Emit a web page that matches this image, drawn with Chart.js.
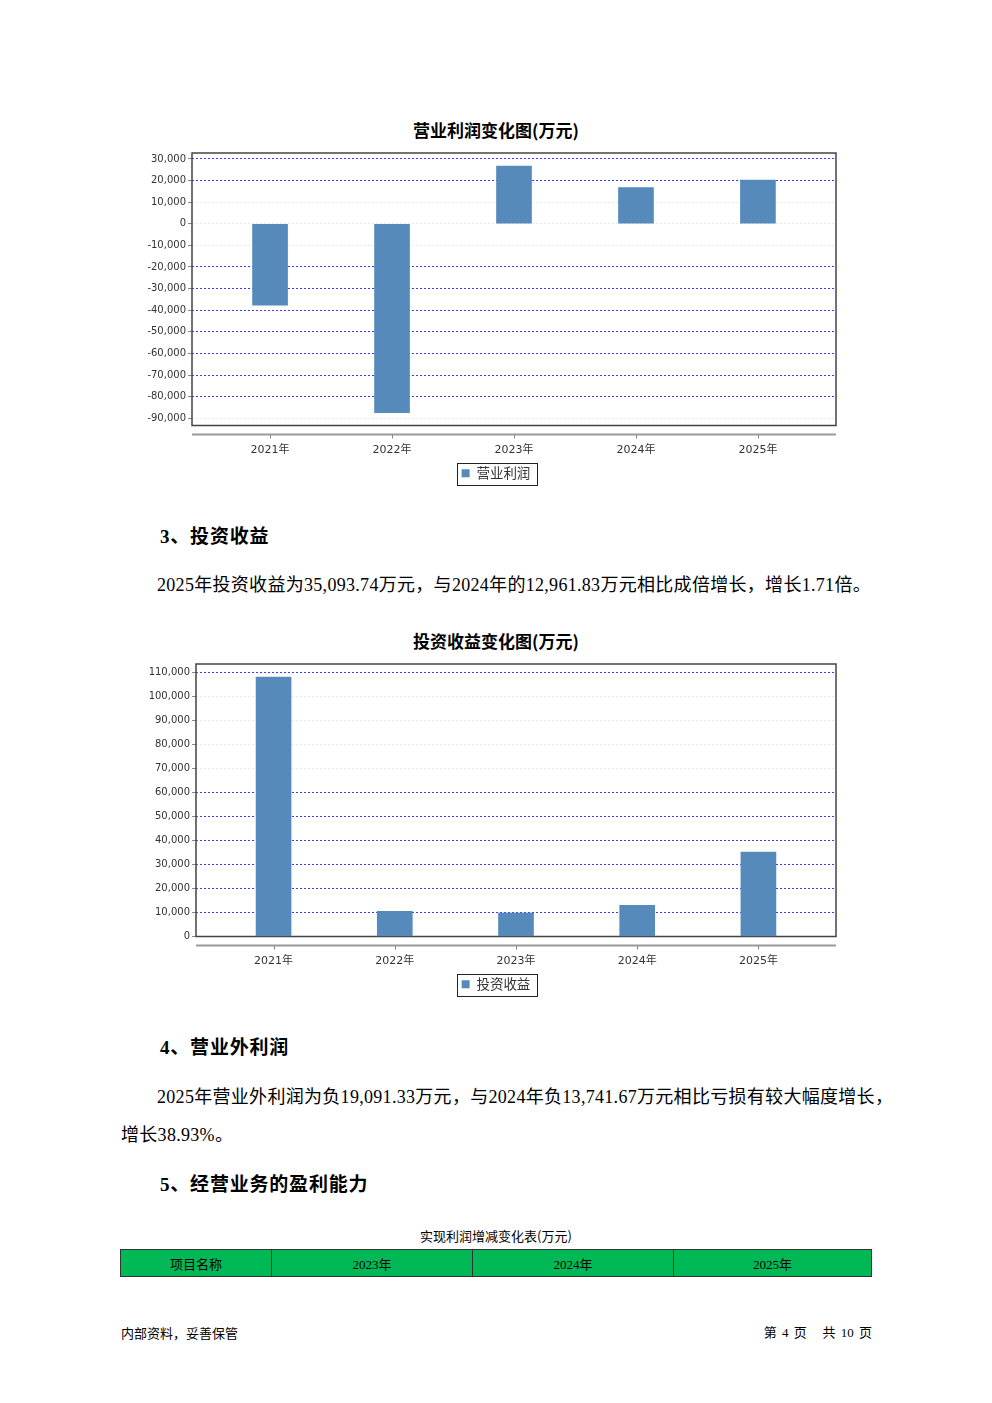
<!DOCTYPE html>
<html>
<head>
<meta charset="utf-8">
<script src="https://cdn.jsdelivr.net/npm/chart.js@4.4.1/dist/chart.umd.min.js"></script>
<style>
  body { margin: 0; background: #fff; width: 992px; height: 1403px; position: relative; overflow: hidden; }
  .abs { position: absolute; white-space: nowrap; color: #000; }
  .ctitle { font: bold 17px "Noto Sans CJK SC", sans-serif; width: 992px; left: 0; text-align: center; line-height: 20px; }
  .head { font: bold 19px "Liberation Serif", "Noto Sans CJK SC", serif; line-height: 22px; left: 160px; letter-spacing: 0.8px; }
  .para { font: 18px "Liberation Serif", "Noto Sans CJK SC", serif; line-height: 22px; letter-spacing: 0.3px; }
  canvas { position: absolute; }
  table { position: absolute; left: 120px; top: 1249px; width: 752px; height: 28px; border-collapse: collapse; background: #00b956; }
  td { border: 1px solid #333; text-align: center; font: 13px "Liberation Serif", "Noto Sans CJK SC", serif; padding: 0; }
</style>
</head>
<body>

<div class="abs ctitle" style="top:120px">营业利润变化图(万元)</div>
<canvas id="c1" width="732" height="350" style="left:130px;top:145px"></canvas>

<div class="abs head" style="top:526px">3、投资收益</div>
<div class="abs para" style="left:157px;top:574px">2025年投资收益为35,093.74万元，与2024年的12,961.83万元相比成倍增长，增长1.71倍。</div>

<div class="abs ctitle" style="top:631px">投资收益变化图(万元)</div>
<canvas id="c2" width="732" height="350" style="left:130px;top:656px"></canvas>

<div class="abs head" style="top:1037px">4、营业外利润</div>
<div class="abs para" style="left:157px;top:1086px">2025年营业外利润为负19,091.33万元，与2024年负13,741.67万元相比亏损有较大幅度增长，</div>
<div class="abs para" style="left:121px;top:1124px">增长38.93%。</div>

<div class="abs head" style="top:1174px">5、经营业务的盈利能力</div>

<div class="abs" style="left:0;width:992px;text-align:center;top:1228px;font:13px 'Noto Sans CJK SC',sans-serif;line-height:16px">实现利润增减变化表(万元)</div>
<table>
  <tr><td style="width:150px;font-family:'Noto Sans CJK SC'">项目名称</td><td style="width:200px">2023年</td><td style="width:200px">2024年</td><td>2025年</td></tr>
</table>

<div class="abs" style="left:121px;top:1325px;font:13px 'Noto Sans CJK SC',sans-serif;line-height:16px">内部资料，妥善保管</div>
<div class="abs" style="right:120px;top:1325px;font:13px 'Liberation Serif','Noto Sans CJK SC',serif;line-height:16px;word-spacing:2px">第 4 页&nbsp;&nbsp;&nbsp;共 10 页</div>

<script>
const years = ["2021年", "2022年", "2023年", "2024年", "2025年"];

// 营业利润 (万元)
const profitName = "营业利润";
const profitValues = [-37700, -87400, 26700, 16700, 20200];
const profitTicks = [30000, 20000, 10000, 0, -10000, -20000, -30000, -40000, -50000, -60000, -70000, -80000, -90000];
const profitFaint = [10000, 0, -10000, -90000];

// 投资收益 (万元)
const investName = "投资收益";
const investValues = [108000, 10500, 9700, 12961.83, 35093.74];
const investTicks = [110000, 100000, 90000, 80000, 70000, 60000, 50000, 40000, 30000, 20000, 10000, 0];
const investFaint = [100000, 90000, 80000, 70000, 0];

const frame = {
  id: "frame",
  beforeDatasetsDraw(chart) {
    const a = chart.chartArea, ctx = chart.ctx;
    ctx.save();
    ctx.strokeStyle = "#444";
    ctx.lineWidth = 1.5;
    ctx.strokeRect(a.left, a.top, a.right - a.left, a.bottom - a.top);
    // separate category axis line below the plot
    const y = a.bottom + 9;
    ctx.strokeStyle = "#999";
    ctx.lineWidth = 2;
    ctx.beginPath();
    ctx.moveTo(a.left, y);
    ctx.lineTo(a.right, y);
    ctx.stroke();
    ctx.lineWidth = 1;
    ctx.strokeStyle = "#888";
    const xs = chart.scales.x;
    years.forEach((_, i) => {
      const px = Math.round(xs.getPixelForValue(i)) + 0.5;
      ctx.beginPath();
      ctx.moveTo(px, y);
      ctx.lineTo(px, y + 4);
      ctx.stroke();
    });
    ctx.restore();
  },
  afterDraw(chart) {
    const hb = chart.legend.legendHitBoxes[0];
    if (!hb) return;
    const ctx = chart.ctx;
    ctx.save();
    ctx.strokeStyle = "#222";
    ctx.lineWidth = 1;
    ctx.strokeRect(Math.round(hb.left - 5) + 0.5, Math.round(hb.top - 4) + 0.5, Math.round(hb.width + 11), Math.round(hb.height + 8));
    ctx.restore();
  }
};

function makeChart(id, name, values, ticks, faint, yMin, yMax, yWidth, padTop) {
  new Chart(document.getElementById(id), {
    type: "bar",
    data: {
      datasets: [{
        label: name,
        data: values.map((v, i) => ({ x: i, y: v })),
        backgroundColor: "#558abb",
        borderWidth: 0,
        barThickness: 35
      }]
    },
    options: {
      responsive: false,
      animation: false,
      devicePixelRatio: 1,
      layout: { padding: { top: padTop, right: 0, left: 0, bottom: 5 } },
      plugins: {
        tooltip: { enabled: false },
        legend: {
          position: "bottom",
          labels: {
            boxWidth: 8, boxHeight: 8, padding: 8,
            color: "#333",
            font: { family: "'Noto Sans CJK SC', sans-serif", size: 13.5 }
          }
        }
      },
      scales: {
        x: {
          type: "linear",
          offset: false,
          grace: 0,
          min: -0.64, max: 4.64,
          afterBuildTicks: s => { s.ticks = years.map((_, i) => ({ value: i })); },
          afterFit: s => { s.height = 33; },
          grid: { display: false, drawTicks: false },
          border: { display: false },
          ticks: {
            padding: 18,
            color: "#333",
            font: { family: "'DejaVu Sans', 'Noto Sans CJK SC', sans-serif", size: 11 },
            callback: v => years[v]
          }
        },
        y: {
          min: yMin, max: yMax,
          afterBuildTicks: s => { s.ticks = ticks.map(v => ({ value: v })); },
          afterFit: s => { s.width = yWidth; },
          border: { display: false, dash: [2, 2] },
          grid: {
            color: c => faint.includes(c.tick.value) ? "rgba(210,210,210,0.5)" : "#3a3aff",
            lineWidth: 1,
            drawTicks: true,
            tickLength: 4,
            tickColor: "#888"
          },
          ticks: {
            padding: 2,
            color: "#333",
            font: { family: "'DejaVu Sans', sans-serif", size: 10 },
            callback: v => v.toLocaleString("en-US")
          }
        },
        // empty right-side spacer so the legend centres on the page
        yr: {
          position: "right",
          afterFit: s => { s.width = 26; },
          grid: { display: false, drawTicks: false },
          border: { display: false },
          ticks: { display: false }
        }
      }
    },
    plugins: [frame]
  });
}

makeChart("c1", profitName, profitValues, profitTicks, profitFaint, -93350, 32750, 62, 7);
makeChart("c2", investName, investValues, investTicks, investFaint, 0, 113400, 66, 8);
</script>
</body>
</html>
